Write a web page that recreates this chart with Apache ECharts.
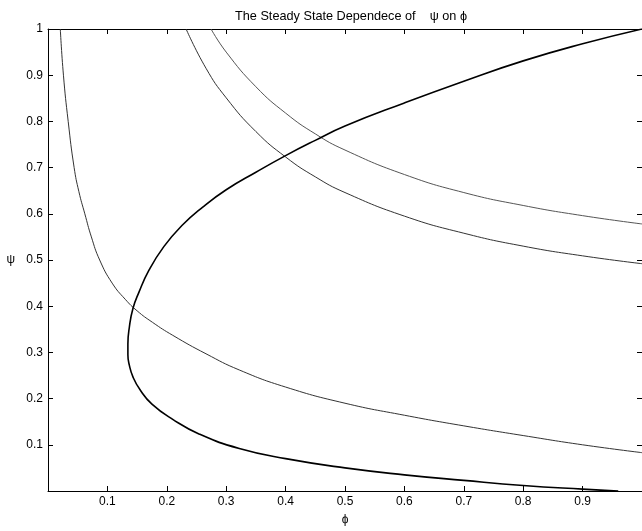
<!DOCTYPE html>
<html>
<head>
<meta charset="utf-8">
<script src="https://cdn.jsdelivr.net/npm/echarts@6/dist/echarts.min.js"></script>
<style>
  html, body { margin: 0; padding: 0; background: #fff; }
  #chart { width: 642px; height: 531px; }
</style>
</head>
<body>
<div id="chart"></div>
<script>
// values
const tickLabels = ['0.1', '0.2', '0.3', '0.4', '0.5', '0.6', '0.7', '0.8', '0.9', '1']

// left thin curve
const curveAPhi = [0.0207, 0.026, 0.034, 0.044, 0.052, 0.062, 0.073, 0.087, 0.108, 0.13, 0.15, 0.176, 0.21, 0.266, 0.322, 0.4, 0.5, 0.6, 0.7, 0.8, 0.9, 1.0]
const curveAPsi = [1.0, 0.9, 0.8, 0.7, 0.648, 0.6, 0.55, 0.5, 0.45, 0.415, 0.39, 0.365, 0.337, 0.297, 0.262, 0.225, 0.19, 0.164, 0.141, 0.12, 0.1, 0.083]

// middle thin curve
const curveBPhi = [0.2325, 0.266, 0.3, 0.35, 0.4, 0.45, 0.5, 0.6, 0.7, 0.8, 0.9, 1.0]
const curveBPsi = [1.0, 0.915, 0.851, 0.778, 0.723, 0.68, 0.646, 0.595, 0.558, 0.53, 0.509, 0.492]

// upper thin curve
const curveCPhi = [0.2745, 0.3, 0.35, 0.4, 0.45, 0.5, 0.6, 0.7, 0.8, 0.9, 1.0]
const curveCPsi = [1.0, 0.95, 0.875, 0.818, 0.773, 0.738, 0.685, 0.646, 0.618, 0.596, 0.578]

// thick sideways curve, traced from the top right round to the bottom right
const curveDPhi = [1.0, 0.9, 0.8, 0.7, 0.6, 0.5, 0.45, 0.4, 0.35, 0.3, 0.26, 0.225, 0.195, 0.17, 0.153, 0.143, 0.137, 0.1345, 0.1345, 0.137, 0.143, 0.155, 0.175, 0.21, 0.255, 0.322, 0.4, 0.5, 0.6, 0.7, 0.8, 0.9, 0.96]
const curveDPsi = [1.0, 0.968, 0.931, 0.887, 0.84, 0.79, 0.759, 0.726, 0.69, 0.652, 0.614, 0.574, 0.529, 0.478, 0.43, 0.395, 0.355, 0.318, 0.295, 0.272, 0.247, 0.219, 0.188, 0.155, 0.123, 0.092, 0.07, 0.05, 0.035, 0.023, 0.012, 0.004, 0.0]

function zip(xs, ys) {
  return xs.map((x, i) => [x, ys[i]])
}

const font = 'Liberation Sans, Arial, Helvetica, sans-serif'

function labelFmt(v) {
  const s = tickLabels.find((t) => Math.abs(parseFloat(t) - v) < 1e-6)
  return s || ''
}

function axis(extra) {
  return Object.assign({
    type: 'value',
    min: 0,
    max: 1,
    interval: 0.1,
    axisLine: { show: true, onZero: false, lineStyle: { color: '#000', width: 1 } },
    axisTick: { show: true, inside: true, length: 5, lineStyle: { color: '#000' } },
    splitLine: { show: false },
  }, extra)
}

const labelStyle = { color: '#000', fontSize: 12, fontFamily: font, margin: 5, formatter: labelFmt }

const chart = echarts.init(document.getElementById('chart'))

chart.setOption({
  animation: false,
  backgroundColor: '#fff',
  title: {
    text: 'The Steady State Dependece of    ψ on ϕ',
    left: 346,
    textAlign: 'center',
    top: 5,
    textStyle: { fontSize: 12.7, fontWeight: 'normal', color: '#000', fontFamily: font },
  },
  grid: { left: 48, top: 29, width: 595, bottom: 30 },
  xAxis: [
    axis({
      position: 'bottom',
      name: 'ϕ',
      nameLocation: 'middle',
      nameGap: 23,
      nameTextStyle: { color: '#000', fontSize: 12, fontFamily: font },
      axisLabel: Object.assign({}, labelStyle, { showMinLabel: false, showMaxLabel: false }),
    }),
    axis({ position: 'top', axisLabel: { show: false } }),
  ],
  yAxis: [
    axis({
      position: 'left',
      name: 'ψ',
      nameLocation: 'middle',
      nameRotate: 0,
      nameGap: 33,
      nameTextStyle: { color: '#000', fontSize: 12, fontFamily: font },
      axisLabel: Object.assign({}, labelStyle, { showMinLabel: false }),
    }),
    axis({ position: 'right', axisLabel: { show: false } }),
  ],
  series: [
    { type: 'line', data: zip(curveAPhi, curveAPsi), showSymbol: false, smooth: 0.5, lineStyle: { color: '#333', width: 1 } },
    { type: 'line', data: zip(curveBPhi, curveBPsi), showSymbol: false, smooth: 0.5, lineStyle: { color: '#333', width: 1 } },
    { type: 'line', data: zip(curveCPhi, curveCPsi), showSymbol: false, smooth: 0.5, lineStyle: { color: '#555', width: 1 } },
    { type: 'line', data: zip(curveDPhi, curveDPsi), showSymbol: false, smooth: 0.5, lineStyle: { color: '#000', width: 1.6 } },
  ],
})
</script>
</body>
</html>
